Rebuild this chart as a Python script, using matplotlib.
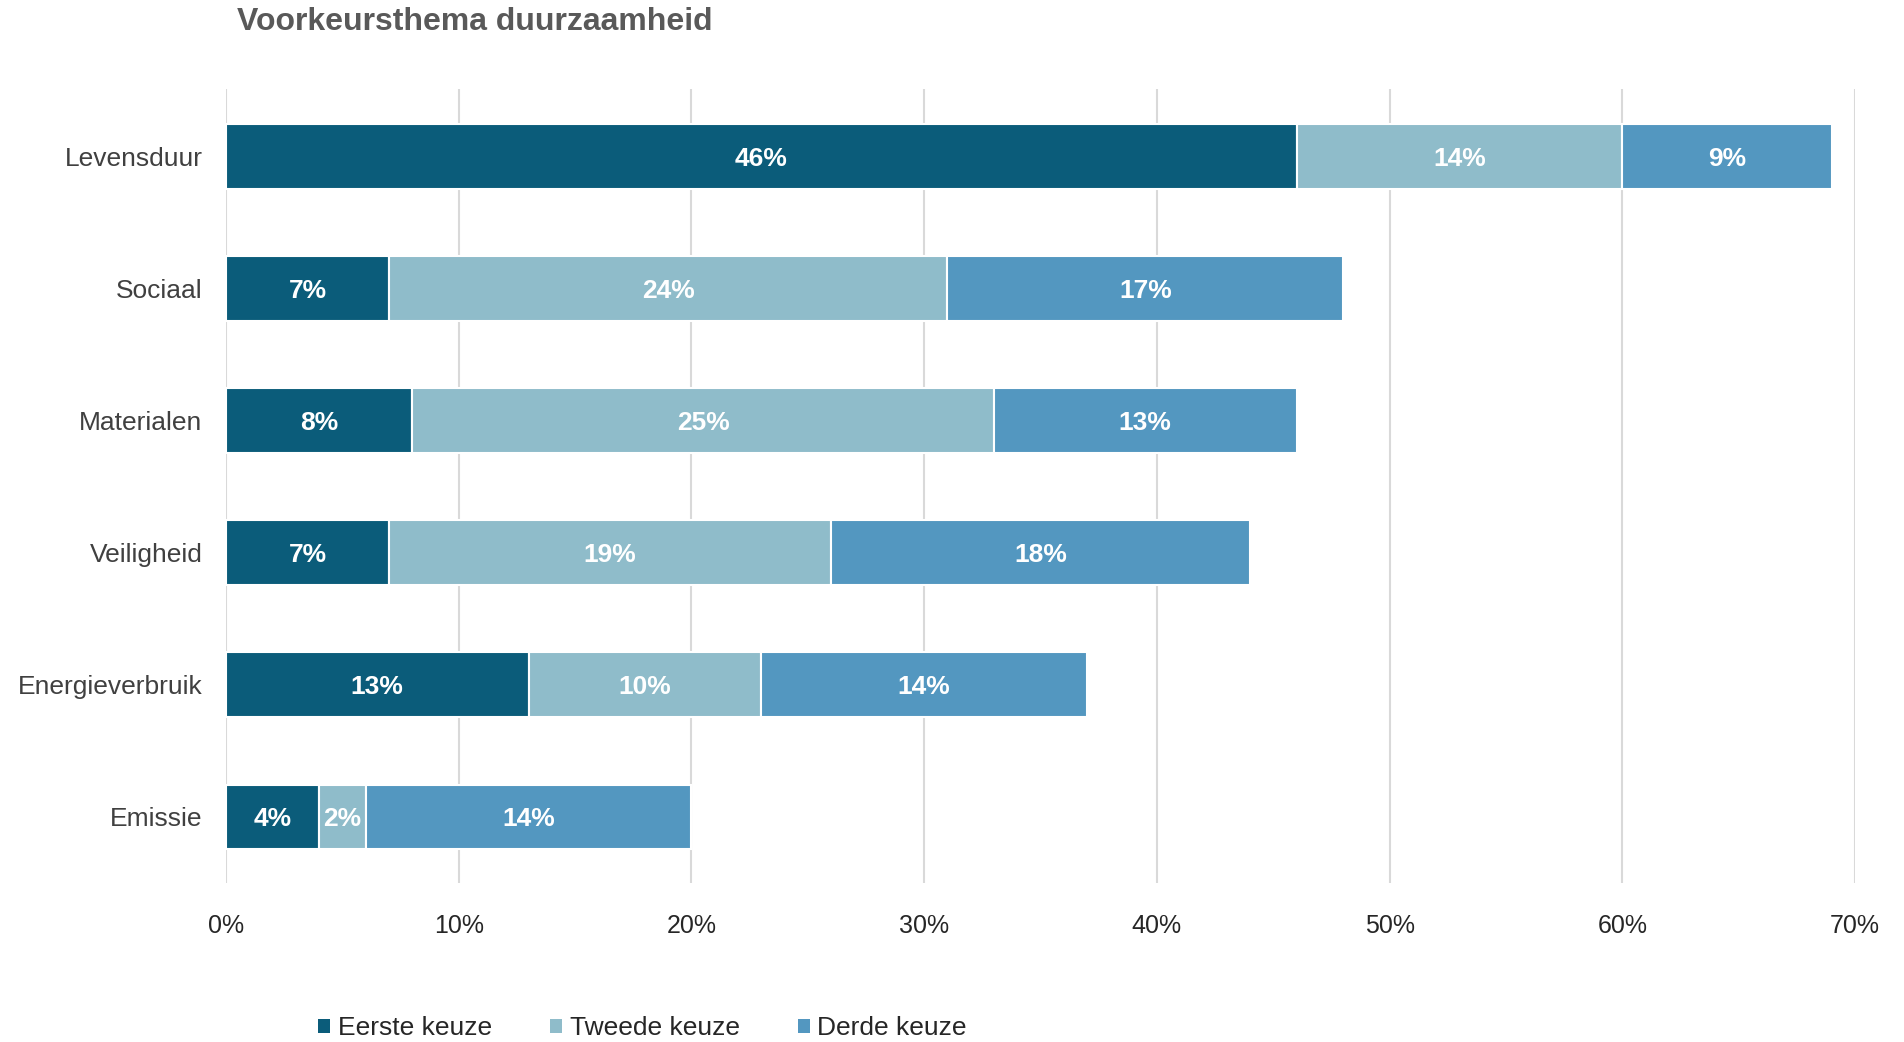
import matplotlib.pyplot as plt
from matplotlib.patches import Patch
from matplotlib.ticker import PercentFormatter

plt.rcParams["font.family"] = ["Liberation Sans", "DejaVu Sans"]

# Survey data (percent of respondents)
themes = ["Levensduur", "Sociaal", "Materialen", "Veiligheid", "Energieverbruik", "Emissie"]
eerste = [46, 7, 8, 7, 13, 4]
tweede = [14, 24, 25, 19, 10, 2]
derde = [9, 17, 13, 18, 14, 14]
series_names = ["Eerste keuze", "Tweede keuze", "Derde keuze"]
colors = ["#0b5c7a", "#8fbcca", "#5397c0"]

fig = plt.figure(figsize=(19.04, 10.42), dpi=100)
ax = fig.add_axes([0.1187, 0.1526, 0.8556, 0.762])

y = list(range(len(themes)))
left = [0] * len(themes)
for vals, col in zip([eerste, tweede, derde], colors):
    bars = ax.barh(y, vals, left=left, height=0.49, color=col,
                   edgecolor="white", linewidth=1.5, zorder=3)
    for b, v in zip(bars, vals):
        ax.text(b.get_x() + b.get_width() / 2, b.get_y() + b.get_height() / 2,
                f"{v}%", ha="center", va="center_baseline", color="white",
                fontsize=19, fontweight="bold", zorder=4)
    left = [l + v for l, v in zip(left, vals)]

ax.set_ylim(len(themes) - 0.5, -0.51)
ax.set_xlim(0, 70)
ax.set_xticks(range(0, 71, 10))
ax.xaxis.set_major_formatter(PercentFormatter(decimals=0))
ax.set_yticks(y)
ax.set_yticklabels(themes)

ax.grid(axis="x", color="#d9d9d9", linewidth=1.5, zorder=0)
for s in ax.spines.values():
    s.set_visible(False)
ax.tick_params(axis="y", length=0, pad=17, labelsize=19, labelcolor="#404040")
ax.tick_params(axis="x", length=0, pad=22, labelsize=18, labelcolor="#262626")

fig.text(0.1245, 0.979, "Voorkeursthema duurzaamheid", fontsize=23,
         fontweight="bold", color="#595959", ha="left", va="center")

handles = [Patch(facecolor=c, edgecolor="none") for c in colors]
fig.legend(handles, series_names, loc="center", bbox_to_anchor=(0.3374, 0.013),
           ncol=3, frameon=False, fontsize=19, handlelength=0.45,
           handleheight=0.45, handletextpad=0.3, columnspacing=2.2,
           labelcolor="#262626")

fig.savefig("out.png", dpi=100)
